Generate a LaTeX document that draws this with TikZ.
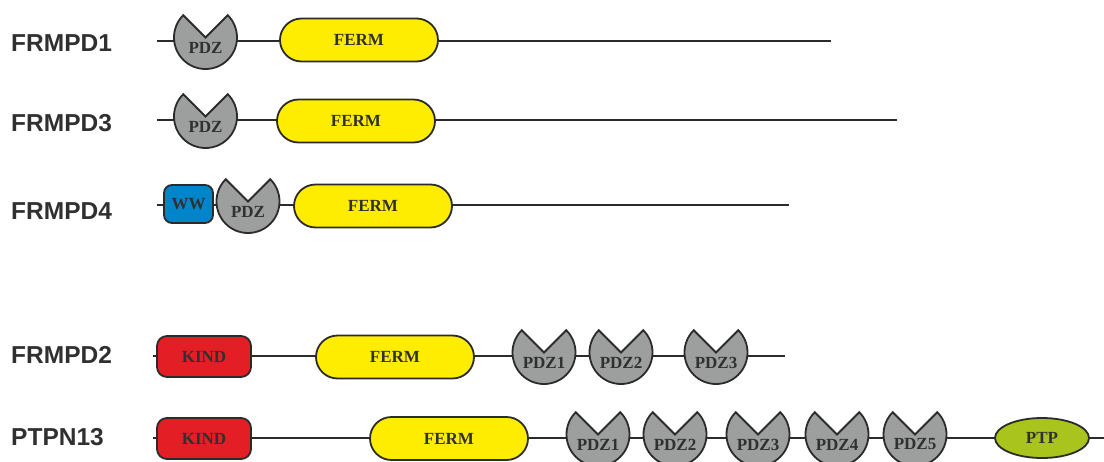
\documentclass[tikz,border=0pt]{standalone}
\usepackage{fontspec}
\setmainfont{Liberation Serif}
\newfontfamily\labelfont{Liberation Sans}
\usepackage{tikz}
\usetikzlibrary{shapes.geometric}

\definecolor{pdzgray}{HTML}{9D9E9E}
\definecolor{fermyellow}{HTML}{FFED00}
\definecolor{kindred}{HTML}{E31E24}
\definecolor{wwblue}{HTML}{0085CA}
\definecolor{ptpgreen}{HTML}{A9C51D}
\definecolor{edgegray}{HTML}{2B2B2B}
\definecolor{labgray}{HTML}{303030}

% PDZ domain: circle with a notch on top; name, x, backbone y, text
\newcommand\pdzdom[4]{%
  \coordinate (#1) at (#2,#3+3.5);
  \filldraw[pdzline] (#1) -- ++(45:31.5) arc[start angle=45,end angle=-225,radius=31.5] -- cycle;
  \node[domtext] (#1-txt) at (#2,#3-6.5) {#4};
}

\begin{document}
\begin{tikzpicture}[x=1pt,y=1pt,
backbone/.style={draw=edgegray,line width=2pt},
pdzline/.style={draw=edgegray,fill=pdzgray,line width=1.8pt,line join=miter},
domtext/.style={inner sep=0pt,text=labgray,font=\bfseries\fontsize{17}{18}\selectfont},
ferm/.style={domtext,draw=edgegray,line width=1.8pt,fill=fermyellow,minimum width=158,minimum height=43,rounded corners=21.5},
kind/.style={domtext,draw=edgegray,line width=1.8pt,fill=kindred,minimum width=94,minimum height=41,rounded corners=10},
ww/.style={domtext,draw=edgegray,line width=1.8pt,fill=wwblue,minimum width=49,minimum height=38,rounded corners=8},
ptp/.style={domtext,ellipse,draw=edgegray,line width=1.8pt,fill=ptpgreen,minimum width=94,minimum height=40},
protein/.style={anchor=west,inner sep=0pt,text=labgray,font=\labelfont\bfseries\fontsize{24.5}{26}\selectfont}]
\useasboundingbox (0,0) rectangle (1104,-461);

\node[protein] (frmpd1) at (11,-43.5) {FRMPD1};
\node[protein] (frmpd3) at (11,-123.5) {FRMPD3};
\node[protein] (frmpd4) at (11,-211) {FRMPD4};
\node[protein] (frmpd2) at (11,-355) {FRMPD2};
\node[protein] (ptpn13) at (11,-437.5) {PTPN13};

\coordinate (a-start) at (157,-41);  \coordinate (a-end) at (831,-41);
\coordinate (b-start) at (157,-120); \coordinate (b-end) at (897,-120);
\coordinate (c-start) at (157,-205); \coordinate (c-end) at (789,-205);
\coordinate (d-start) at (153,-356); \coordinate (d-end) at (785,-356);
\coordinate (e-start) at (153,-438); \coordinate (e-end) at (1104,-438);
\foreach \r in {a,b,c,d,e}
  \draw[backbone] (\r-start) -- (\r-end);

% FRMPD1
\pdzdom{a-pdz}{205.5}{-41}{PDZ}
\node[ferm] (a-ferm) at (359,-40) {FERM};
% FRMPD3
\pdzdom{b-pdz}{205.5}{-120}{PDZ}
\node[ferm] (b-ferm) at (356,-121) {FERM};
% FRMPD4
\node[ww] (c-ww) at (188.5,-204) {WW};
\pdzdom{c-pdz}{248}{-205}{PDZ}
\node[ferm] (c-ferm) at (373,-206) {FERM};
% FRMPD2
\node[kind] (d-kind) at (204,-356.5) {KIND};
\node[ferm] (d-ferm) at (395,-357) {FERM};
\pdzdom{d-pdz1}{544}{-356}{PDZ1}
\pdzdom{d-pdz2}{621}{-356}{PDZ2}
\pdzdom{d-pdz3}{716}{-356}{PDZ3}
% PTPN13
\node[kind] (e-kind) at (204,-438.5) {KIND};
\node[ferm] (e-ferm) at (449,-438.5) {FERM};
\pdzdom{e-pdz1}{598}{-438}{PDZ1}
\pdzdom{e-pdz2}{675}{-438}{PDZ2}
\pdzdom{e-pdz3}{758}{-438}{PDZ3}
\pdzdom{e-pdz4}{837}{-438}{PDZ4}
\pdzdom{e-pdz5}{915}{-438}{PDZ5}
\node[ptp] (e-ptp) at (1042,-438) {PTP};
\end{tikzpicture}
\end{document}
